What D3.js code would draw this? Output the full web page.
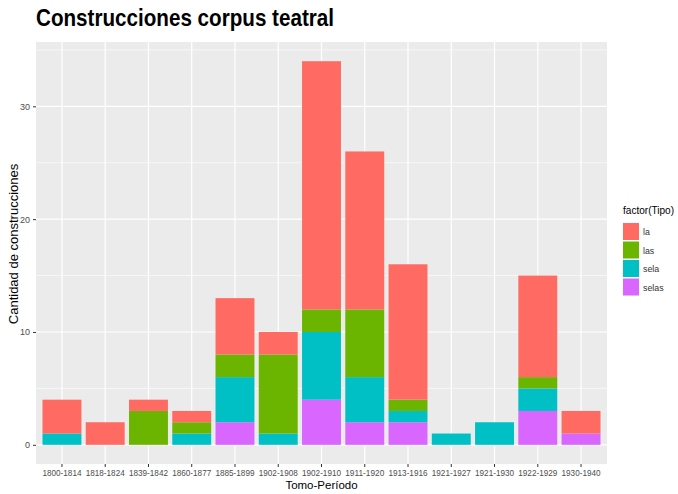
<!DOCTYPE html>
<html>
<head>
<meta charset="utf-8">
<script src="https://cdn.jsdelivr.net/npm/d3@7"></script>
<style>
  body { margin: 0; background: #fff; }
  svg { display: block; font-family: "Liberation Sans", Arial, sans-serif; }
</style>
</head>
<body>
<div id="chart"></div>
<script>
const periods = ["1800-1814", "1818-1824", "1839-1842", "1860-1877", "1885-1899", "1902-1908",
  "1902-1910", "1911-1920", "1913-1916", "1921-1927", "1921-1930", "1922-1929", "1930-1940"];
const tipos = ["la", "las", "sela", "selas"];
const la    = [3, 2, 1, 1, 5, 2, 22, 14, 12, 0, 0, 9, 2];
const las   = [0, 0, 3, 1, 2, 7, 2, 6, 1, 0, 0, 1, 0];
const sela  = [1, 0, 0, 1, 4, 1, 6, 4, 1, 1, 2, 2, 0];
const selas = [0, 0, 0, 0, 2, 0, 4, 2, 2, 0, 0, 3, 1];
const yTicks = [0, 10, 20, 30];
const yMinor = [5, 15, 25, 35];
const colors = ["#ff6b63", "#6bb500", "#00c0c6", "#d866ff"];

const W = 678, H = 494;
const panel = { left: 36, right: 607, top: 42, bottom: 464 };

const rows = periods.map((p, i) => ({ period: p, la: la[i], las: las[i], sela: sela[i], selas: selas[i] }));
// ggplot stacks the first level on top, so stack from the last level up
const stack = d3.stack().keys(tipos.slice().reverse())(rows);

const svg = d3.select("#chart").append("svg").attr("width", W).attr("height", H);

const x = d3.scaleBand().domain(periods)
  .range([panel.left, panel.right]).paddingInner(0.1).paddingOuter(0.15);
const maxTotal = d3.max(rows, d => d.la + d.las + d.sela + d.selas);
const y = d3.scaleLinear().domain([-maxTotal * 0.05, maxTotal * 1.05])
  .range([panel.bottom, panel.top]);

// panel background
svg.append("rect")
  .attr("x", panel.left).attr("y", panel.top)
  .attr("width", panel.right - panel.left).attr("height", panel.bottom - panel.top)
  .attr("fill", "#ebebeb");

// grid
svg.append("g").selectAll("line").data(yMinor).join("line")
  .attr("x1", panel.left).attr("x2", panel.right)
  .attr("y1", d => y(d)).attr("y2", d => y(d))
  .attr("stroke", "#fff").attr("stroke-width", 0.6);
svg.append("g").selectAll("line").data(yTicks).join("line")
  .attr("x1", panel.left).attr("x2", panel.right)
  .attr("y1", d => y(d)).attr("y2", d => y(d))
  .attr("stroke", "#fff").attr("stroke-width", 1.2);
svg.append("g").selectAll("line").data(periods).join("line")
  .attr("x1", d => x(d) + x.bandwidth() / 2).attr("x2", d => x(d) + x.bandwidth() / 2)
  .attr("y1", panel.top).attr("y2", panel.bottom)
  .attr("stroke", "#fff").attr("stroke-width", 1.2);

// bars
svg.append("g").selectAll("g").data(stack).join("g")
  .attr("fill", s => colors[tipos.indexOf(s.key)])
  .selectAll("rect").data(s => s.filter(d => d[1] > d[0])).join("rect")
    .attr("x", d => x(d.data.period))
    .attr("width", x.bandwidth())
    .attr("y", d => y(d[1]))
    .attr("height", d => y(d[0]) - y(d[1]));

// axes
const xAxis = svg.append("g")
  .attr("transform", `translate(0,${panel.bottom})`)
  .call(d3.axisBottom(x).tickSize(3).tickPadding(3));
xAxis.select(".domain").remove();
xAxis.selectAll("line").attr("stroke", "#333");
xAxis.selectAll("text").attr("fill", "#4d4d4d").style("font-size", "9px")
  .attr("textLength", 39).attr("lengthAdjust", "spacingAndGlyphs");

const yAxis = svg.append("g")
  .attr("transform", `translate(${panel.left},0)`)
  .call(d3.axisLeft(y).tickValues(yTicks).tickSize(3).tickPadding(3));
yAxis.select(".domain").remove();
yAxis.selectAll("line").attr("stroke", "#333");
yAxis.selectAll("text").attr("fill", "#4d4d4d").style("font-size", "9px");

// titles
svg.append("text")
  .attr("x", panel.left).attr("y", 26)
  .style("font-size", "24px").style("font-weight", "bold")
  .attr("fill", "#000")
  .attr("textLength", 298).attr("lengthAdjust", "spacingAndGlyphs")
  .text("Construcciones corpus teatral");

svg.append("text")
  .attr("x", (panel.left + panel.right) / 2).attr("y", 489)
  .attr("text-anchor", "middle")
  .style("font-size", "11.5px").attr("fill", "#000")
  .text("Tomo-Período");

svg.append("text")
  .attr("transform", `translate(18,244) rotate(-90)`)
  .attr("text-anchor", "middle")
  .style("font-size", "13px").attr("fill", "#000")
  .text("Cantidad de construcciones");

// legend
const legend = svg.append("g").attr("transform", "translate(623,0)");
legend.append("text")
  .attr("x", 0).attr("y", 214)
  .style("font-size", "10.5px").attr("fill", "#000")
  .attr("textLength", 51).attr("lengthAdjust", "spacingAndGlyphs")
  .text("factor(Tipo)");
const keys = legend.selectAll("g.key").data(tipos).join("g")
  .attr("class", "key")
  .attr("transform", (d, i) => `translate(0,${223 + i * 18.5})`);
keys.append("rect")
  .attr("width", 16).attr("height", 17)
  .attr("fill", (d, i) => colors[i]);
keys.append("text")
  .attr("x", 20).attr("y", 12)
  .style("font-size", "8.8px").attr("fill", "#333")
  .text(d => d);
</script>
</body>
</html>
